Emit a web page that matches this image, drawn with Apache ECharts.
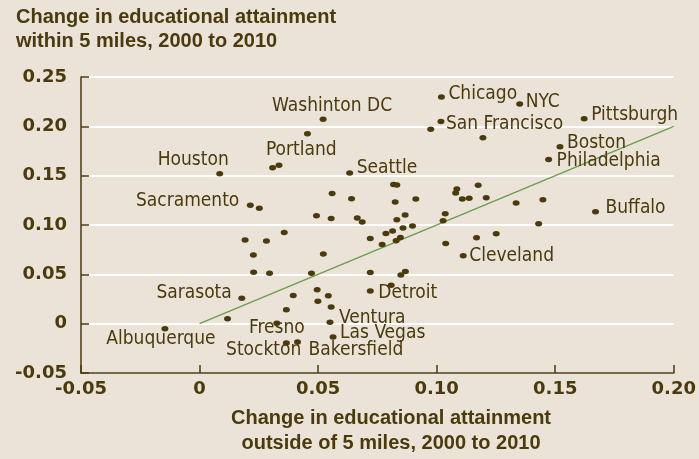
<!DOCTYPE html>
<html>
<head>
<meta charset="utf-8">
<script src="https://cdn.jsdelivr.net/npm/echarts@6/dist/echarts.min.js"></script>
<style>
html, body { margin: 0; padding: 0; background: #ebe3d7; }
#chart { width: 699px; height: 459px; }
</style>
</head>
<body>
<div id="chart"></div>
<script>
// labelled metro areas
var cityNames = ['Washinton DC', 'Chicago', 'NYC', 'San Francisco', 'Pittsburgh', 'Boston', 'Philadelphia',
    'Portland', 'Houston', 'Seattle', 'Sacramento', 'Buffalo', 'Cleveland', 'Detroit', 'Sarasota',
    'Ventura', 'Fresno', 'Albuquerque', 'Las Vegas', 'Stockton', 'Bakersfield'];
var cityOutside = [0.0521, 0.1020, 0.1350, 0.1018, 0.1622, 0.1520, 0.1472,
    0.0335, 0.0085, 0.0633, 0.0214, 0.1670, 0.1112, 0.0720, 0.0178,
    0.0550, 0.0326, -0.0146, 0.0563, 0.0366, 0.0413];
var cityWithin = [0.2073, 0.2297, 0.2226, 0.2050, 0.2077, 0.1793, 0.1664,
    0.1606, 0.1520, 0.1528, 0.1200, 0.1135, 0.0688, 0.0332, 0.0258,
    0.0014, 0.0004, -0.0051, -0.0135, -0.0196, -0.0186];

// other metro areas (no label)
var otherOutside = [0.0308, 0.0252, 0.0455, 0.0975, 0.0818, 0.0832, 0.0559, 0.0641, 0.0825, 0.0912,
    0.0493, 0.0555, 0.0665, 0.0686, 0.0832, 0.0867, 0.0720, 0.0786, 0.0814, 0.0858,
    0.0898, 0.0770, 0.0829, 0.0847, 0.0522, 0.0472, 0.0720, 0.0849, 0.0868, 0.1085,
    0.1080, 0.1175, 0.1108, 0.1137, 0.1209, 0.1335, 0.1036, 0.1027, 0.1430, 0.1038,
    0.1168, 0.1251, 0.1195, 0.1448, 0.0357, 0.0192, 0.0282, 0.0227, 0.0228, 0.0295,
    0.0395, 0.0366, 0.0118, 0.0496, 0.0499, 0.0543, 0.0555, 0.0808];
var otherWithin = [0.1580, 0.1170, 0.1925, 0.1970, 0.1410, 0.1405, 0.1318, 0.1267, 0.1234, 0.1264,
    0.1094, 0.1067, 0.1071, 0.1030, 0.1054, 0.1101, 0.0864, 0.0915, 0.0939, 0.0970,
    0.0990, 0.0803, 0.0840, 0.0874, 0.0705, 0.0512, 0.0518, 0.0492, 0.0528, 0.1366,
    0.1325, 0.1402, 0.1264, 0.1270, 0.1277, 0.1224, 0.1115, 0.1044, 0.1013, 0.0813,
    0.0871, 0.0912, 0.1884, 0.1257, 0.0925, 0.0848, 0.0837, 0.0695, 0.0522, 0.0512,
    0.0285, 0.0142, 0.0051, 0.0343, 0.0228, 0.0282, 0.0170, 0.0390];

// 45 degree reference line
var refLineX = [0, 0.20];
var refLineY = [0, 0.20];

var brown = '#4a3a0c';
var labelFont = "'Liberation Sans Narrow', 'DejaVu Sans Condensed', sans-serif";

// where each city name sits relative to its dot: [align, dx, dy]
var labelPlace = {
    'Washinton DC': ['center', 9, -13],
    'Chicago': ['left', 7, -3],
    'NYC': ['left', 6, -2],
    'San Francisco': ['left', 5, 3],
    'Pittsburgh': ['left', 7, -4],
    'Boston': ['left', 7, -4],
    'Philadelphia': ['left', 8, 2],
    'Portland': ['left', -13, -15],
    'Houston': ['right', 9, -14],
    'Seattle': ['left', 7, -5],
    'Sacramento': ['right', -11, -4],
    'Buffalo': ['left', 10, -4],
    'Cleveland': ['left', 6, 0],
    'Detroit': ['left', 8, 2],
    'Sarasota': ['right', -10, -5],
    'Ventura': ['left', 9, -4],
    'Fresno': ['center', 0, 5],
    'Albuquerque': ['center', -4, 10],
    'Las Vegas': ['left', 7, -4],
    'Stockton': ['right', 15, 7],
    'Bakersfield': ['left', 11, 8]
};

var cityData = [];
for (var i = 0; i < cityNames.length; i++) {
    var p = labelPlace[cityNames[i]];
    cityData.push({
        name: cityNames[i],
        value: [cityOutside[i], cityWithin[i]],
        label: { align: p[0], offset: [p[1], p[2]] }
    });
}
var otherData = [];
for (var j = 0; j < otherOutside.length; j++) {
    otherData.push([otherOutside[j], otherWithin[j]]);
}
var refData = [];
for (var k = 0; k < refLineX.length; k++) {
    refData.push([refLineX[k], refLineY[k]]);
}

var fmt = function (v) {
    if (Math.abs(v) < 1e-9) return '0';
    return v.toFixed(2);
};

var chart = echarts.init(document.getElementById('chart'));

var option = {
    backgroundColor: '#ebe3d7',
    animation: false,
    grid: { left: 81, right: 23, top: 77, bottom: 86 },
    xAxis: {
        type: 'value',
        min: -0.05,
        max: 0.20,
        interval: 0.05,
        axisLine: { onZero: false, lineStyle: { color: brown, width: 1.5 } },
        axisTick: { inside: true, length: 8, lineStyle: { color: brown, width: 1.5 } },
        axisLabel: {
            margin: 7, formatter: fmt, color: brown,
            fontFamily: 'DejaVu Sans', fontWeight: 'bold', fontSize: 18
        },
        splitLine: { show: false }
    },
    yAxis: {
        type: 'value',
        min: -0.05,
        max: 0.25,
        interval: 0.05,
        axisLine: { show: true, onZero: false, lineStyle: { color: brown, width: 1.5 } },
        axisTick: { show: true, inside: true, length: 8, lineStyle: { color: brown, width: 1.5 } },
        axisLabel: {
            margin: 14, formatter: fmt, color: brown,
            fontFamily: 'DejaVu Sans', fontWeight: 'bold', fontSize: 18
        },
        splitLine: { show: true, lineStyle: { color: '#ffffff', width: 2 } }
    },
    graphic: [
        {
            type: 'text', x: 16, y: 5,
            style: {
                text: 'Change in educational attainment\nwithin 5 miles, 2000 to 2010',
                font: "bold 20px 'Liberation Sans', Arial, sans-serif",
                fill: brown, lineHeight: 24,
                align: 'left', textAlign: 'left', verticalAlign: 'top', textVerticalAlign: 'top'
            }
        },
        {
            type: 'text', x: 391, y: 406,
            style: {
                text: 'Change in educational attainment\noutside of 5 miles, 2000 to 2010',
                font: "bold 20px 'Liberation Sans', Arial, sans-serif",
                fill: brown, lineHeight: 25,
                align: 'center', textAlign: 'center', verticalAlign: 'top', textVerticalAlign: 'top'
            }
        }
    ],
    series: [
        {
            type: 'line',
            data: refData,
            symbol: 'none',
            silent: true,
            z: 1,
            lineStyle: { color: '#6c9e50', width: 1.5 }
        },
        {
            type: 'scatter',
            data: otherData,
            symbol: 'circle',
            symbolSize: [7, 5.5],
            z: 3,
            itemStyle: { color: brown, opacity: 1 }
        },
        {
            type: 'scatter',
            data: cityData,
            symbol: 'circle',
            symbolSize: [7, 5.5],
            z: 4,
            itemStyle: { color: brown, opacity: 1 },
            label: {
                show: true,
                position: 'inside',
                formatter: '{b}',
                color: '#4a3a0c',
                textBorderWidth: 0,
                verticalAlign: 'middle',
                fontFamily: labelFont,
                fontSize: 19
            }
        }
    ]
};

chart.setOption(option);
</script>
</body>
</html>
